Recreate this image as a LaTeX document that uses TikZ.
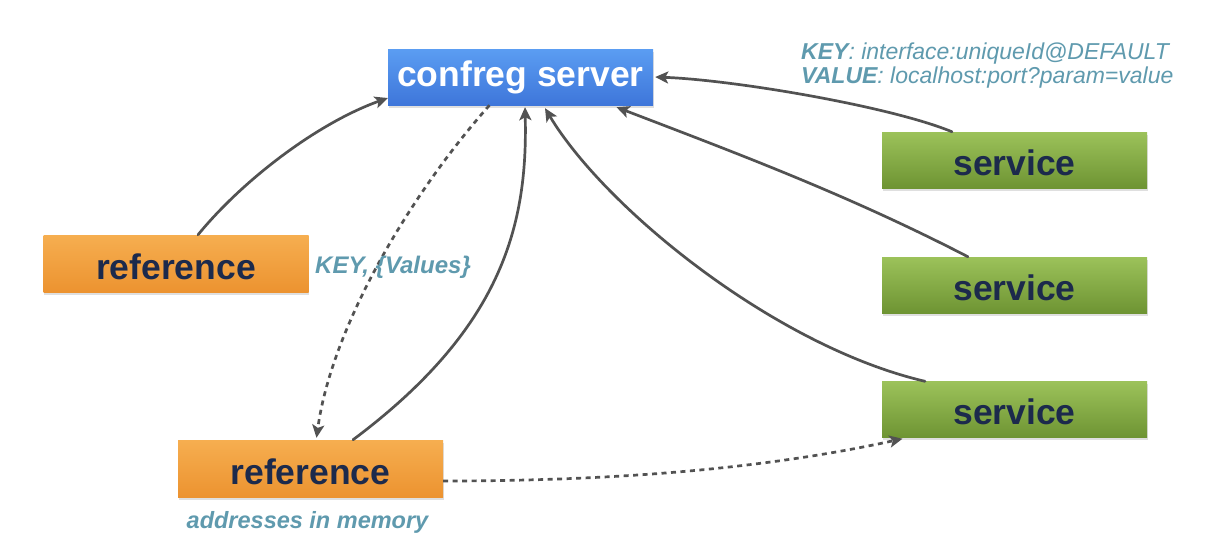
\documentclass[tikz,border=0pt]{standalone}
\usepackage{fontspec}
\setmainfont{Liberation Sans}
\usetikzlibrary{arrows.meta,shadows}
\definecolor{arrowgray}{HTML}{525252}
\definecolor{labelteal}{HTML}{5F9AAE}
\definecolor{boxtext}{HTML}{1C2A4C}
\definecolor{bluetop}{HTML}{5B9DF2}
\definecolor{bluebot}{HTML}{3E76DA}
\definecolor{orangetop}{HTML}{F6AE50}
\definecolor{orangebot}{HTML}{EC9330}
\definecolor{greentop}{HTML}{9CC25A}
\definecolor{greenbot}{HTML}{6E9433}
\tikzset{
  basebox/.style={rectangle, inner sep=0pt, minimum width=265pt, minimum height=56pt,
    font=\fontsize{35.5}{40}\selectfont\bfseries,
    drop shadow={shadow xshift=0.5pt, shadow yshift=-2.5pt, opacity=0.25}},
  serverbox/.style={basebox, top color=bluetop, bottom color=bluebot, text=white,
    text height=30pt, text depth=10.4pt},
  refbox/.style={basebox, minimum height=57pt, top color=orangetop, bottom color=orangebot, text=boxtext,
    text height=31pt, text depth=0pt},
  svcbox/.style={basebox, top color=greentop, bottom color=greenbot, text=boxtext,
    text height=30pt, text depth=0pt},
  conn/.style={draw=arrowgray, line width=2.7pt, line cap=round,
    -{Stealth[length=13pt,width=12pt,inset=3pt]}},
  dconn/.style={conn, line cap=butt, dash pattern=on 5pt off 4.5pt},
  lbl/.style={inner sep=0pt, text=labelteal, anchor=base west},
}
\begin{document}
\begin{tikzpicture}[x=1pt,y=-1pt]
\fill[white] (0,0) rectangle (1226,554);
\useasboundingbox (0,0) rectangle (1226,554);

\node[serverbox] (cs) at (520.5,77) {confreg server};
\node[refbox] (r1) at (176,263.5) {reference};
\node[refbox] (r2) at (310.5,468.5) {reference};
\node[svcbox] (s1) at (1014.5,160) {service};
\node[svcbox] (s2) at (1014.5,285) {service};
\node[svcbox] (s3) at (1014.5,409.5) {service};

% reference (top) -> confreg server
\draw[conn] ([xshift=22pt]r1.north) .. controls +(45,-55) and +(-70,25) .. ([yshift=-21pt]cs.west);
% confreg server -> reference (bottom), dashed
\draw[dconn] ([xshift=-31pt]cs.south) .. controls +(-80,90) and +(15,-110) .. ([xshift=6pt,yshift=2pt]r2.north);
% reference (bottom) -> confreg server
\draw[conn] ([xshift=42.5pt]r2.north) .. controls +(147,-110) and +(3,121) .. ([xshift=4.5pt,yshift=-2pt]cs.south);
% reference (bottom) -> service (bottom), dashed
\draw[dconn] ([yshift=-12.5pt]r2.east) .. controls +(150,0) and +(-150,33) .. ([xshift=-112pt,yshift=-1pt]s3.south);
% services -> confreg server
\draw[conn] ([xshift=-62.5pt]s1.north) .. controls +(-60,-25) and +(80,3) .. ([xshift=2pt]cs.east);
\draw[conn] ([xshift=-46.5pt]s2.north) .. controls +(-120,-62) and +(120,46) .. ([xshift=96pt,yshift=-2pt]cs.south);
\draw[conn] ([xshift=-89.5pt]s3.north) .. controls +(-150,-35) and +(60,100) .. ([xshift=24.5pt,yshift=-3pt]cs.south);

% labels
\node[lbl, font=\fontsize{23}{26}\selectfont\itshape] (kl) at (801,59.5) {\textbf{KEY}: interface:uniqueId@DEFAULT};
\node[lbl, font=\fontsize{23}{26}\selectfont\itshape] (vl) at (801,83.5) {\textbf{VALUE}: localhost:port?param=value};
\node[lbl, font=\fontsize{24}{27}\selectfont\bfseries\itshape] (kv) at (315,273) {KEY, \{Values\}};
\node[lbl, font=\fontsize{23.5}{27}\selectfont\bfseries\itshape] (am) at (186.5,528) {addresses in memory};
\end{tikzpicture}
\end{document}
